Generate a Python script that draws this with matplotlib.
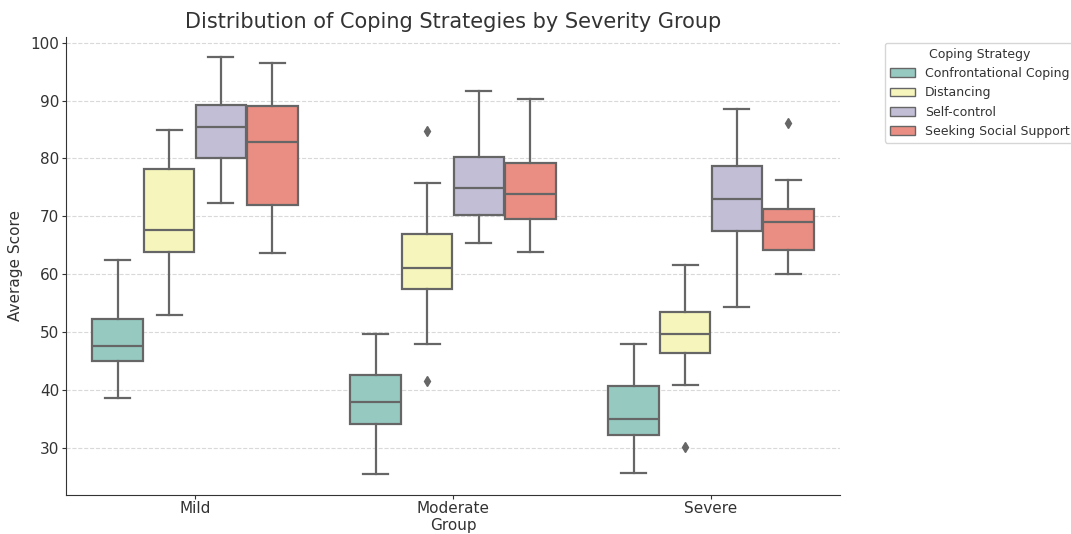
import matplotlib.pyplot as plt
import seaborn as sns

groups = ['Mild', 'Moderate', 'Severe']
strategies = ['Confrontational Coping', 'Distancing', 'Self-control', 'Seeking Social Support']

# per group, per strategy: whisker low, Q1, median, Q3, whisker high
whislo = [[38.6, 53.0, 72.3, 63.7],
          [25.4, 47.9, 65.3, 63.9],
          [25.6, 40.9, 54.3, 60.1]]
q1 = [[44.9, 63.8, 80.0, 71.9],
      [34.0, 57.4, 70.3, 69.5],
      [32.1, 46.4, 67.5, 64.2]]
med = [[47.6, 67.7, 85.4, 82.9],
       [37.9, 61.1, 74.9, 73.9],
       [35.0, 49.7, 73.0, 69.0]]
q3 = [[52.2, 78.2, 89.3, 89.0],
      [42.6, 66.9, 80.3, 79.2],
      [40.7, 53.4, 78.7, 71.2]]
whishi = [[62.5, 85.0, 97.5, 96.5],
          [49.7, 75.8, 91.6, 90.3],
          [48.0, 61.5, 88.5, 76.2]]
fliers = [[[], [], [], []],
          [[], [84.8, 41.6], [], []],
          [[], [30.1], [], [86.1]]]

colors = sns.color_palette("Set3", 4, desat=0.75)
line_col = '#666666'
text_col = '#333333'

fig = plt.figure(figsize=(10.71, 5.34), dpi=100)
ax = fig.add_axes([66/1071, 1 - 495/534, 774/1071, (495 - 36.5)/534])

ax.yaxis.grid(True, linestyle='--', color='#d9d9d9', linewidth=0.8)
ax.set_axisbelow(True)

offsets = [-0.3, -0.1, 0.1, 0.3]
for j, s in enumerate(strategies):
    stats = []
    for i in range(len(groups)):
        stats.append(dict(whislo=whislo[i][j], q1=q1[i][j], med=med[i][j],
                          q3=q3[i][j], whishi=whishi[i][j], fliers=fliers[i][j]))
    pos = [i + offsets[j] for i in range(len(groups))]
    ax.bxp(stats, positions=pos, widths=0.196, patch_artist=True, manage_ticks=False,
           boxprops=dict(facecolor=colors[j], edgecolor=line_col, linewidth=1.6),
           medianprops=dict(color=line_col, linewidth=1.6),
           whiskerprops=dict(color=line_col, linewidth=1.6),
           capprops=dict(color=line_col, linewidth=1.6),
           flierprops=dict(marker='d', markerfacecolor=line_col, markeredgecolor=line_col,
                           markersize=5))

ax.set_xlim(-0.5, 2.5)
ax.set_ylim(21.8, 101.1)
ax.set_xticks(range(len(groups)))
ax.set_xticklabels(groups)
ax.set_yticks([30, 40, 50, 60, 70, 80, 90, 100])
ax.tick_params(colors=text_col, labelsize=11)
ax.tick_params(axis='x', pad=1.5, length=3)
ax.tick_params(axis='y', pad=2, length=3)
for sp in ['top', 'right']:
    ax.spines[sp].set_visible(False)
for sp in ['left', 'bottom']:
    ax.spines[sp].set_color(text_col)

ax.set_xlabel('Group', fontsize=11, color=text_col, labelpad=1)
ax.set_ylabel('Average Score', fontsize=11, color=text_col, labelpad=5)
ax.set_title('Distribution of Coping Strategies by Severity Group', fontsize=15, color=text_col)

handles = [plt.Rectangle((0, 0), 1, 1, facecolor=colors[j], edgecolor=line_col, linewidth=1)
           for j in range(len(strategies))]
leg = ax.legend(handles, strategies, title='Coping Strategy', loc='upper left',
                bbox_to_anchor=(1.05, 1), fontsize=9, title_fontsize=9)
for t in leg.get_texts():
    t.set_color(text_col)
leg.get_title().set_color(text_col)

fig.savefig('out.png', dpi=100)
